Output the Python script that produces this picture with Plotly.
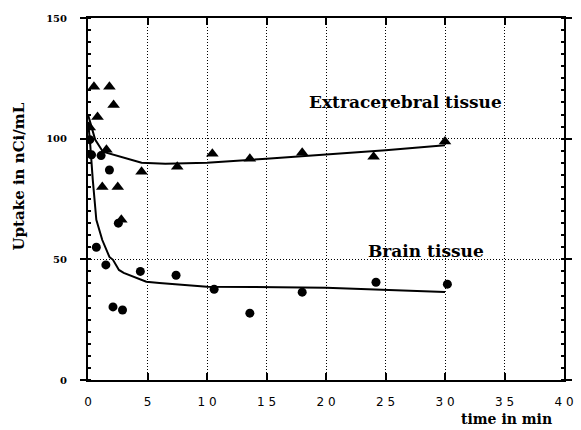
import plotly.graph_objects as go

# Measured points
extra_t = [0.15, 0.5, 0.8, 1.2, 1.55, 1.8, 2.15, 2.5, 2.8, 4.5, 7.5, 10.45, 13.6, 18.0, 24.0, 30.0]
extra_v = [104.6, 121.5, 109, 80, 95.4, 121.5, 114, 80, 66.4, 86.3, 88.4, 93.8, 91.7, 94.2, 92.5, 98.8]

brain_t = [0.15, 0.3, 1.1, 1.8, 0.7, 1.5, 2.1, 2.9, 2.55, 4.4, 7.4, 10.6, 13.6, 18.0, 24.2, 30.2]
brain_v = [99.6, 93.3, 93, 87, 55, 47.7, 30.3, 29, 65, 45, 43.4, 37.6, 27.7, 36.4, 40.5, 39.7]

# Fitted curves
extra_fit_t = [0, 0.6, 1.25, 2.1, 3.2, 4.5, 6.5, 10, 15, 20, 25, 30]
extra_fit_v = [110, 99.6, 94.6, 93.4, 91.7, 90, 89.6, 90, 91.7, 93.4, 95.2, 97.3]

brain_fit_t = [0, 0.15, 0.4, 0.7, 1.2, 1.8, 2.1, 2.6, 3.0, 4.9, 6.0, 10, 14, 20, 30]
brain_fit_v = [107, 100, 83, 66.4, 58, 51, 49.8, 45.6, 44.4, 40.7, 40.2, 38.6, 38.5, 38.2, 36.5]

x_ticks = [0, 5, 10, 15, 20, 25, 30, 35, 40]
x_labels = ["0", "5", "1 0", "1 5", "2 0", "2 5", "3 0", "3 5", "4 0"]
y_ticks = [0, 50, 100, 150]
y_labels = ["0", "50", "100", "150"]

fig = go.Figure()
fig.add_trace(go.Scatter(x=extra_fit_t, y=extra_fit_v, mode="lines",
                         line=dict(color="black", width=2), hoverinfo="skip"))
fig.add_trace(go.Scatter(x=brain_fit_t, y=brain_fit_v, mode="lines",
                         line=dict(color="black", width=2), hoverinfo="skip"))
fig.add_trace(go.Scatter(x=extra_t, y=extra_v, mode="markers",
                         marker=dict(symbol="triangle-up", size=11, color="black")))
fig.add_trace(go.Scatter(x=brain_t, y=brain_v, mode="markers",
                         marker=dict(symbol="circle", size=9, color="black")))

serif_bold = dict(family="DejaVu Serif", color="black", weight="bold")

fig.update_layout(
    width=581, height=430,
    margin=dict(l=88, r=7, t=18, b=50),
    paper_bgcolor="white", plot_bgcolor="white",
    showlegend=False,
    xaxis=dict(
        range=[0, 40], tickvals=x_ticks, ticktext=x_labels,
        showgrid=True, gridcolor="black", gridwidth=1, griddash="1px,2px",
        zeroline=False, showline=True, linecolor="black", linewidth=2,
        mirror="ticks", ticks="inside", ticklen=7, tickwidth=2, tickcolor="black",
        tickfont=dict(family="DejaVu Sans", size=12, color="black"),
        ticklabelstandoff=10,
    ),
    yaxis=dict(
        range=[0, 150], tickvals=y_ticks, ticktext=y_labels,
        showgrid=True, gridcolor="black", gridwidth=1, griddash="1px,2px",
        zeroline=False, showline=True, linecolor="black", linewidth=2,
        mirror="ticks", ticks="outside", ticklen=6, tickwidth=2, tickcolor="black",
        tickfont=dict(size=10, **serif_bold),
        ticklabelstandoff=11,
        minor=dict(dtick=5, ticks="inside", ticklen=3, tickwidth=1.5,
                   tickcolor="black", showgrid=False),
    ),
)

fig.add_annotation(text="Uptake in nCi/mL", xref="paper", yref="paper",
                   x=-0.144, y=0.5635, textangle=-90, showarrow=False,
                   xanchor="center", yanchor="middle", font=dict(size=15, **serif_bold))
fig.add_annotation(text="time in min", xref="paper", yref="paper",
                   x=0.8786, y=-0.1077, showarrow=False,
                   xanchor="center", yanchor="middle", font=dict(size=14, **serif_bold))
fig.add_annotation(text="Extracerebral tissue", x=26.7, y=115.2, showarrow=False,
                   xanchor="center", yanchor="middle", font=dict(size=17, **serif_bold))
fig.add_annotation(text="Brain tissue", x=28.4, y=53.5, showarrow=False,
                   xanchor="center", yanchor="middle", font=dict(size=17, **serif_bold))

fig.write_html("out.html", config={"displayModeBar": False},
               post_script="document.body.style.margin='0';document.body.style.overflow='hidden';")
